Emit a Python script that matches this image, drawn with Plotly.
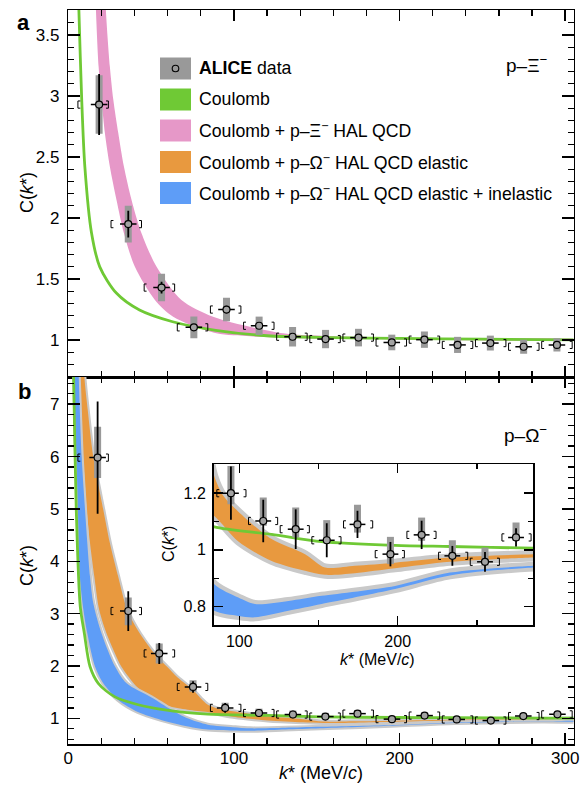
import plotly.graph_objects as go

W, H = 580, 785
FONT = "Liberation Sans, Arial, Helvetica, sans-serif"

# ---------------- data ----------------
bin_edges = [5, 25, 45, 65, 85, 105, 125, 145, 165, 185, 205, 225, 245, 265, 285, 305]

# panel a : p–Ξ−
k_xi = [18.6, 36.2, 56.3, 75.8, 95.5, 115.2, 135.4, 155.3, 175.2, 195.3, 215.0, 235.0, 254.8, 274.9, 295.0]
c_xi = [2.93, 1.95, 1.43, 1.104, 1.25, 1.117, 1.027, 1.008, 1.02, 0.98, 1.003, 0.96, 0.975, 0.945, 0.96]
stat_xi = [0.25, 0.11, 0.048, 0.02, 0.03, 0.02, 0.012, 0.01, 0.01, 0.01, 0.01, 0.01, 0.01, 0.01, 0.01]
syst_xi = [0.24, 0.15, 0.113, 0.089, 0.096, 0.075, 0.08, 0.075, 0.072, 0.064, 0.067, 0.066, 0.061, 0.057, 0.055]

# panel b : p–Ω−
k_om = [17.7, 36.2, 54.9, 75.3, 94.7, 115.1, 135.6, 155.2, 174.6, 195.4, 215.1, 234.5, 255.1, 274.7, 295.3]
c_om = [5.98, 3.05, 2.24, 1.60, 1.20, 1.102, 1.073, 1.034, 1.09, 0.985, 1.053, 0.979, 0.958, 1.044, 1.076]
stat_om = [1.07, 0.38, 0.20, 0.11, 0.094, 0.075, 0.07, 0.06, 0.048, 0.043, 0.05, 0.035, 0.035, 0.032, 0.03]
syst_om_up = [0.59, 0.26, 0.19, 0.13, 0.096, 0.083, 0.077, 0.071, 0.069, 0.061, 0.061, 0.055, 0.05, 0.053, 0.05]
syst_om_dn = [0.39, 0.27, 0.19, 0.09, 0.039, 0.017, 0.029, 0.008, 0.029, 0.035, 0.021, 0.012, 0.014, 0.012, 0.015]

# Coulomb p–Ξ−
coul_xi_k = [5.6, 6.4, 8.1, 10.0, 14.0, 19.0, 29.0, 43.0, 63.0, 89.0, 120.0, 160.0, 200.0, 250.0, 312.0]
coul_xi_c = [4.10, 3.70, 2.97, 2.42, 1.88, 1.60, 1.385, 1.246, 1.15, 1.08, 1.035, 1.02, 1.013, 1.007, 1.001]

# Coulomb + p–Ξ− HAL QCD band
hal_xi_lo_k = [16.2, 16.7, 18.3, 20.1, 22.1, 25.1, 29.1, 33.6, 40.2, 52.3, 63.3, 89.4, 110.0, 140.0, 200.0, 312.0]
hal_xi_lo_c = [3.95, 3.70, 3.24, 2.967, 2.694, 2.42, 2.148, 1.875, 1.60, 1.328, 1.191, 1.055, 1.03, 1.015, 1.005, 1.0]
hal_xi_hi_k = [22.1, 22.7, 25.1, 27.2, 30.2, 33.6, 38.2, 44.2, 53.3, 68.3, 87.4, 129.6, 160.0, 200.0, 312.0]
hal_xi_hi_c = [3.95, 3.70, 3.24, 2.967, 2.694, 2.42, 2.148, 1.875, 1.60, 1.328, 1.191, 1.055, 1.03, 1.015, 1.004]

# Coulomb p–Ω−
coul_om_k = [2.9, 3.2, 4.8, 7.2, 9.7, 13.1, 18.1, 28.2, 42.2, 58.3, 70.0, 84.2, 120.4, 151.9, 198.2, 233.0, 285.6, 312.0]
coul_om_c = [8.0, 7.53, 4.99, 3.14, 2.62, 1.99, 1.67, 1.41, 1.26, 1.16, 1.115, 1.081, 1.055, 1.029, 1.016, 1.012, 1.006, 1.005]

# Coulomb + p–Ω− HAL QCD elastic band
el_lo_k = [6.5, 7.1, 7.7, 9.0, 11.1, 13.1, 15.7, 18.6, 23.1, 28.2, 32.0, 41.5, 52.3, 60.0, 72.0, 84.2, 99.4, 120.4, 141.5, 154.1, 173.0, 198.3, 233.0, 285.6, 312.0]
el_lo_c = [8.0, 7.53, 6.9, 5.99, 4.99, 4.35, 3.71, 3.08, 2.62, 2.24, 1.99, 1.60, 1.35, 1.24, 1.165, 1.12, 1.03, 0.961, 0.926, 0.912, 0.918, 0.935, 0.958, 0.973, 0.975]
el_hi_k = [9.3, 9.7, 11.7, 15.1, 21.1, 25.1, 30.1, 35.5, 43.2, 52.0, 59.5, 66.0, 75.3, 80.0, 84.2, 90.0, 99.4, 120.4, 141.5, 154.1, 173.0, 198.3, 233.0, 285.6, 312.0]
el_hi_c = [8.0, 7.53, 6.9, 5.99, 4.99, 4.35, 3.71, 3.08, 2.62, 2.24, 1.99, 1.78, 1.54, 1.38, 1.26, 1.19, 1.135, 1.038, 0.985, 0.938, 0.944, 0.955, 0.973, 0.985, 0.987]

# Coulomb + p–Ω− HAL QCD elastic + inelastic band
inel_lo_k = [3.3, 3.6, 4.3, 5.0, 5.8, 7.0, 9.0, 11.5, 16.1, 21.1, 30.1, 42.0, 56.0, 70.0, 84.2, 99.4, 109.9, 131.0, 152.0, 198.3, 233.0, 285.6, 312.0]
inel_lo_c = [8.0, 7.53, 6.6, 5.9, 4.99, 3.71, 3.1, 2.62, 1.99, 1.67, 1.35, 1.12, 0.97, 0.86, 0.785, 0.767, 0.762, 0.785, 0.809, 0.862, 0.91, 0.938, 0.942]
inel_hi_k = [6.0, 6.3, 8.1, 10.1, 13.1, 15.1, 20.1, 28.2, 35.2, 50.3, 62.0, 72.0, 84.2, 99.4, 109.9, 131.0, 152.0, 198.3, 233.0, 285.6, 312.0]
inel_hi_c = [8.0, 7.53, 5.99, 4.99, 3.71, 3.2, 2.62, 1.99, 1.67, 1.40, 1.17, 1.0, 0.879, 0.832, 0.809, 0.82, 0.838, 0.873, 0.92, 0.944, 0.948]

# ---------------- layout geometry (pixels) ----------------
AX_L, AX_R = 68.3, 573.5
A_TOP, A_BOT = 10.0, 377.0
B_TOP, B_BOT = 377.0, 744.0
IN_L, IN_R, IN_TOP, IN_BOT = 213.5, 533.3, 464.3, 625.0

X_RANGE = [0, 305]
YA_RANGE = [0.697, 3.705]
YB_RANGE = [0.51, 7.52]
XI_RANGE = [83.7, 285.6]
YI_RANGE = [0.735, 1.302]

GREEN = "#6fc935"
PINK = "#e698c8"
ORANGE = "#e8993f"
BLUE = "#5e9df7"
GREYB = "#c9c9c9"
BOX = "#999999"


def px(x):
    return x / W


def py(y):
    return 1 - y / H


fig = go.Figure()


def band(lo_k, lo_c, hi_k, hi_c, color, xa, ya, border=None, bw=0):
    xs = list(lo_k) + list(hi_k)[::-1]
    ys = list(lo_c) + list(hi_c)[::-1]
    if border:
        fig.add_trace(go.Scatter(x=xs, y=ys, xaxis=xa, yaxis=ya, mode="lines", fill="toself",
                                 fillcolor=border, line=dict(color=border, width=bw, shape="spline", smoothing=0.8),
                                 hoverinfo="skip"))
    fig.add_trace(go.Scatter(x=xs, y=ys, xaxis=xa, yaxis=ya, mode="lines", fill="toself",
                             fillcolor=color, line=dict(color=color, width=0, shape="spline", smoothing=0.8),
                             hoverinfo="skip"))


def curve(ks, cs, color, width, xa, ya):
    fig.add_trace(go.Scatter(x=ks, y=cs, xaxis=xa, yaxis=ya, mode="lines",
                             line=dict(color=color, width=width, shape="spline", smoothing=0.8),
                             hoverinfo="skip"))


def points(k, c, stat, s_up, s_dn, xa, ya, ppu_x, ppu_y):
    fig.add_trace(go.Scatter(x=k, y=c, xaxis=xa, yaxis=ya, mode="markers",
                             marker=dict(size=1, color="rgba(0,0,0,0)"),
                             error_y=dict(type="data", symmetric=False, array=s_up, arrayminus=s_dn,
                                          thickness=7, width=0, color=BOX),
                             hoverinfo="skip"))
    # brackets at bin edges
    h = 3.6 / ppu_y
    d = 2.4 / ppu_x
    off = 0.8
    bx, by = [], []
    for i, (kk, cc) in enumerate(zip(k, c)):
        lo = bin_edges[i] + off
        hi = bin_edges[i + 1] - off
        bx += [lo + d, lo, lo, lo + d, None, hi - d, hi, hi, hi - d, None]
        by += [cc + h, cc + h, cc - h, cc - h, None, cc + h, cc + h, cc - h, cc - h, None]
    fig.add_trace(go.Scatter(x=bx, y=by, xaxis=xa, yaxis=ya, mode="lines",
                             line=dict(color="black", width=1), hoverinfo="skip"))
    fig.add_trace(go.Scatter(x=k, y=c, xaxis=xa, yaxis=ya, mode="markers",
                             marker=dict(symbol="circle", size=7, color="#a3a3a3",
                                         line=dict(color="black", width=1.2)),
                             error_y=dict(type="data", array=stat, thickness=1.8, width=0, color="black"),
                             error_x=dict(type="constant", value=5, thickness=1.5, width=0, color="black"),
                             hoverinfo="skip"))


ppx_main = (AX_R - AX_L) / (X_RANGE[1] - X_RANGE[0])
ppy_a = (A_BOT - A_TOP) / (YA_RANGE[1] - YA_RANGE[0])
ppy_b = (B_BOT - B_TOP) / (YB_RANGE[1] - YB_RANGE[0])
ppx_in = (IN_R - IN_L) / (XI_RANGE[1] - XI_RANGE[0])
ppy_in = (IN_BOT - IN_TOP) / (YI_RANGE[1] - YI_RANGE[0])

# ---- panel a ----
band(hal_xi_lo_k, hal_xi_lo_c, hal_xi_hi_k, hal_xi_hi_c, PINK, "x", "y")
curve(coul_xi_k, coul_xi_c, GREEN, 2.8, "x", "y")
points(k_xi, c_xi, stat_xi, syst_xi, syst_xi, "x", "y", ppx_main, ppy_a)

# ---- panel b ----
band(el_lo_k, el_lo_c, el_hi_k, el_hi_c, ORANGE, "x2", "y2", GREYB, 4)
band(inel_lo_k, inel_lo_c, inel_hi_k, inel_hi_c, BLUE, "x2", "y2", GREYB, 4)
curve(coul_om_k, coul_om_c, GREEN, 2.8, "x2", "y2")
points(k_om, c_om, stat_om, syst_om_up, syst_om_dn, "x2", "y2", ppx_main, ppy_b)

# ---- inset ----
fig.add_trace(go.Scatter(x=[XI_RANGE[0], XI_RANGE[1], XI_RANGE[1], XI_RANGE[0]],
                         y=[YI_RANGE[0], YI_RANGE[0], YI_RANGE[1], YI_RANGE[1]],
                         xaxis="x3", yaxis="y3", mode="lines", fill="toself", fillcolor="white",
                         line=dict(width=0, color="white"), hoverinfo="skip"))
band(el_lo_k, el_lo_c, el_hi_k, el_hi_c, ORANGE, "x3", "y3", GREYB, 8)
band(inel_lo_k, inel_lo_c, inel_hi_k, inel_hi_c, BLUE, "x3", "y3", GREYB, 8)
curve(coul_om_k, coul_om_c, GREEN, 2.8, "x3", "y3")
points(k_om, c_om, stat_om, syst_om_up, syst_om_dn, "x3", "y3", ppx_in, ppy_in)

# ---------------- axes ----------------
common = dict(showline=True, linecolor="black", linewidth=1.5, mirror="ticks", ticks="inside",
              tickwidth=1.5, tickcolor="black", showgrid=False, zeroline=False, automargin=False,
              tickfont=dict(family=FONT, size=17, color="black"))

fig.update_layout(
    template="none",
    width=W, height=H, margin=dict(l=0, r=0, t=0, b=0, pad=0, autoexpand=False),
    paper_bgcolor="white", plot_bgcolor="white", showlegend=False,
    font=dict(family=FONT, size=17, color="black"),
    xaxis=dict(domain=[px(AX_L), px(AX_R)], anchor="y", range=X_RANGE, dtick=100, tick0=0,
               ticklen=11, showticklabels=False,
               minor=dict(ticks="inside", ticklen=6, dtick=20, tick0=0, tickcolor="black", tickwidth=1.3),
               **common),
    yaxis=dict(domain=[py(A_BOT), py(A_TOP)], anchor="x", range=YA_RANGE, dtick=0.5, tick0=0,
               ticklen=12, ticklabelstandoff=4,
               minor=dict(ticks="inside", ticklen=6, dtick=0.1, tick0=0, tickcolor="black", tickwidth=1.3),
               **common),
    xaxis2=dict(domain=[px(AX_L), px(AX_R)], anchor="y2", range=X_RANGE, dtick=100, tick0=0,
                ticklen=11, ticklabelstandoff=-2,
                minor=dict(ticks="inside", ticklen=6, dtick=20, tick0=0, tickcolor="black", tickwidth=1.3),
                **common),
    yaxis2=dict(domain=[py(B_BOT), py(B_TOP)], anchor="x2", range=YB_RANGE, dtick=1, tick0=0,
                ticklen=12, ticklabelstandoff=4,
                minor=dict(ticks="inside", ticklen=6, dtick=0.2, tick0=0, tickcolor="black", tickwidth=1.3),
                **common),
)
inset_common = dict(common)
inset_common["tickfont"] = dict(family=FONT, size=16, color="black")
fig.update_layout(
    xaxis3=dict(domain=[px(IN_L), px(IN_R)], anchor="y3", range=XI_RANGE, dtick=100, tick0=0,
                ticklen=9, ticklabelstandoff=1,
                minor=dict(ticks="inside", ticklen=5, dtick=50, tick0=0, tickcolor="black", tickwidth=1.3),
                **inset_common),
    yaxis3=dict(domain=[py(IN_BOT), py(IN_TOP)], anchor="x3", range=YI_RANGE, dtick=0.2, tick0=0,
                ticklen=9, ticklabelstandoff=3,
                minor=dict(ticks="inside", ticklen=5, dtick=0.1, tick0=0, tickcolor="black", tickwidth=1.3),
                **inset_common),
)

# ---------------- annotations ----------------
ann = []


def text(x, y, s, size=17, xanchor="center", yanchor="middle", angle=0):
    ann.append(dict(x=px(x), y=py(y), xref="paper", yref="paper", text=s, showarrow=False,
                    xanchor=xanchor, yanchor=yanchor, textangle=angle,
                    font=dict(family=FONT, size=size, color="black")))


ytitle = "C(<i>k</i>*)"
text(27, 193, ytitle, size=18, angle=-90)
text(27, 566, ytitle, size=18, angle=-90)
text(168, 544, ytitle, size=16, angle=-90)
text(321, 773, "<i>k</i>* (MeV/<i>c</i>)", size=18)
text(377, 659, "<i>k</i>* (MeV/<i>c</i>)", size=16)
text(23, 23, "<b>a</b>", size=22)
text(24, 391, "<b>b</b>", size=22)
text(549, 64, "p–Ξ<sup>−</sup>", size=19, xanchor="right")
text(549, 434, "p–Ω<sup>−</sup>", size=19, xanchor="right")

# legend
leg_rows = [68.5, 99.5, 130.5, 162.0, 193.0]
leg_cols = [BOX, GREEN, PINK, ORANGE, BLUE]
leg_text = ["<b>ALICE</b> data", "Coulomb", "Coulomb + p–Ξ<sup>−</sup> HAL QCD",
            "Coulomb + p–Ω<sup>−</sup> HAL QCD elastic",
            "Coulomb + p–Ω<sup>−</sup> HAL QCD elastic + inelastic"]
shapes = []
for yc, col, t in zip(leg_rows, leg_cols, leg_text):
    shapes.append(dict(type="rect", xref="paper", yref="paper", x0=px(160), x1=px(191),
                       y0=py(yc + 11), y1=py(yc - 11), fillcolor=col, line=dict(width=0), layer="above"))
    text(197, yc, t, size=17.7, xanchor="left")
shapes.append(dict(type="circle", xref="paper", yref="paper", x0=px(172.2), x1=px(178.8),
                   y0=py(leg_rows[0] + 3.3), y1=py(leg_rows[0] - 3.3), fillcolor=BOX,
                   line=dict(color="black", width=1.1), layer="above"))

fig.update_layout(annotations=ann, shapes=shapes)

fig.write_html("out.html", config={"displayModeBar": False, "staticPlot": True},
               post_script="document.body.style.margin='0px';document.body.style.padding='0px';"
                           "document.body.style.overflow='hidden';")
